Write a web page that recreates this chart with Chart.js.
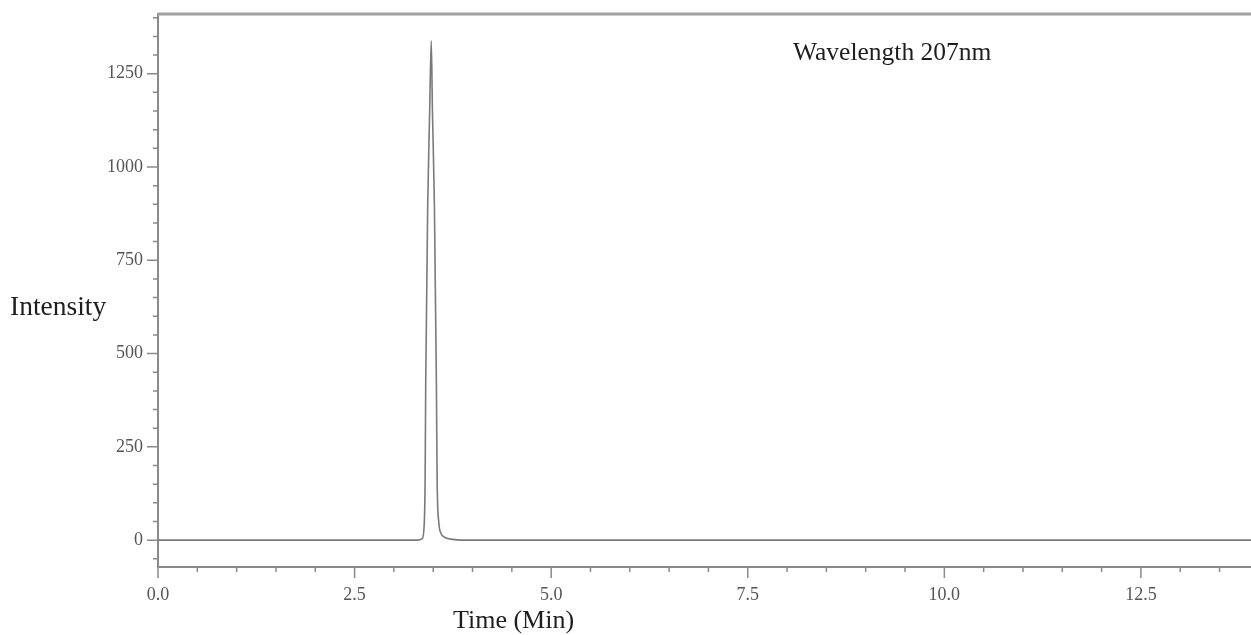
<!DOCTYPE html>
<html>
<head>
<meta charset="utf-8">
<script src="https://cdn.jsdelivr.net/npm/chart.js@4.4.0/dist/chart.umd.min.js"></script>
<style>
  html, body { margin: 0; padding: 0; background: #fff; }
  #chart { display: block; }
</style>
</head>
<body>
<canvas id="chart" width="1251" height="635"></canvas>
<script>
// chromatogram
const times = [0, 3.30, 3.36, 3.385, 3.397, 3.405, 3.43, 3.455, 3.475, 3.49, 3.515, 3.54, 3.55, 3.57, 3.60, 3.65, 3.75, 3.85, 13.9];
const intensity = [0, 0, 4, 40, 160, 430, 900, 1150, 1338, 1150, 900, 430, 160, 50, 18, 7, 2, 0, 0];

const xLabels = [0, 2.5, 5, 7.5, 10, 12.5];
const yLabels = [0, 250, 500, 750, 1000, 1250];

const axisColor = '#8a8a8a';
const serif = '"Liberation Serif", "Times New Roman", serif';

// minor ticks every 0.5 min / 50 units, majors where labelled
function tickSet(from, to, step) {
    const out = [];
    for (let v = from; v <= to + 1e-9; v += step) out.push({ value: Math.round(v * 100) / 100 });
    return out;
}

const tickMarks = {
    id: 'tickMarks',
    afterDraw(chart) {
        const ctx = chart.ctx;
        const area = chart.chartArea;
        const x = chart.scales.x, y = chart.scales.y;
        ctx.save();
        ctx.strokeStyle = axisColor;
        ctx.lineWidth = 1.5;
        ctx.beginPath();
        x.ticks.forEach(t => {
            const px = x.getPixelForValue(t.value);
            const len = xLabels.includes(t.value) ? 11 : 5;
            ctx.moveTo(px, area.bottom);
            ctx.lineTo(px, area.bottom + len);
        });
        y.ticks.forEach(t => {
            const py = y.getPixelForValue(t.value);
            const len = yLabels.includes(t.value) ? 11 : 5;
            ctx.moveTo(area.left, py);
            ctx.lineTo(area.left - len, py);
        });
        ctx.stroke();
        // top frame line
        ctx.strokeStyle = '#a0a0a0';
        ctx.lineWidth = 3;
        ctx.beginPath();
        ctx.moveTo(area.left, area.top);
        ctx.lineTo(area.right, area.top);
        ctx.stroke();

        ctx.fillStyle = '#1e1e1e';
        ctx.textBaseline = 'alphabetic';
        ctx.font = '27.5px ' + serif;
        ctx.fillText('Intensity', 10, 315);
        ctx.font = '25.5px ' + serif;
        ctx.fillText('Wavelength 207nm', 793, 60);
        ctx.font = '26px ' + serif;
        ctx.fillText('Time (Min)', 453, 628);
        ctx.restore();
    }
};

new Chart(document.getElementById('chart'), {
    type: 'line',
    data: {
        datasets: [{
            data: times.map((t, i) => ({ x: t, y: intensity[i] })),
            borderColor: '#7a7a7a',
            borderWidth: 1.6,
            pointRadius: 0,
            fill: false,
            cubicInterpolationMode: 'monotone'
        }]
    },
    options: {
        responsive: false,
        devicePixelRatio: 1,
        animation: false,
        layout: { padding: { top: 14, left: 0, right: 0, bottom: 0 } },
        plugins: { legend: { display: false }, tooltip: { enabled: false } },
        scales: {
            x: {
                type: 'linear',
                min: 0,
                max: 13.9,
                afterBuildTicks: s => { s.ticks = tickSet(0, 13.5, 0.5); },
                afterFit: s => { s.height = 68; s.paddingLeft = 0; s.paddingRight = 0; },
                grid: { display: false },
                border: { display: true, color: axisColor, width: 2 },
                ticks: {
                    autoSkip: false,
                    maxRotation: 0,
                    padding: 9,
                    color: '#555',
                    font: { family: serif, size: 18 },
                    callback: v => xLabels.includes(v) ? v.toFixed(1) : ''
                }
            },
            y: {
                min: -72,
                max: 1410,
                afterBuildTicks: s => { s.ticks = tickSet(-50, 1400, 50); },
                afterFit: s => { s.width = 158; s.paddingTop = 0; s.paddingBottom = 0; },
                grid: { display: false },
                border: { display: true, color: axisColor, width: 2 },
                ticks: {
                    autoSkip: false,
                    padding: 7,
                    color: '#555',
                    font: { family: serif, size: 18 },
                    callback: v => yLabels.includes(v) ? String(v) : ''
                }
            }
        }
    },
    plugins: [tickMarks]
});
</script>
</body>
</html>
